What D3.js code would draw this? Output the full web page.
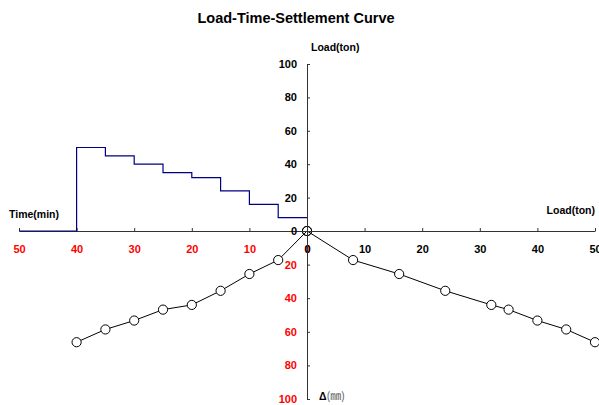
<!DOCTYPE html>
<html>
<head>
<meta charset="utf-8">
<script src="https://cdn.jsdelivr.net/npm/d3@7"></script>
<style>
  html, body { margin: 0; padding: 0; background: #fff; }
  svg { display: block; font-family: "Liberation Sans", Arial, sans-serif; }
</style>
</head>
<body>
<svg id="chart" width="599" height="405"></svg>
<script>
// ---- data ----
const elapsedTime = [0, 5, 10, 15, 20, 25, 30, 35, 40];          // min
const appliedLoad = [0, 8, 16, 24, 32, 35, 40, 45, 50];          // ton
const settlement  = [0, 17.3, 25.6, 35.6, 44, 46.8, 53.3, 58.6, 66.2]; // mm
const stepTime    = [0, 5, 10, 15, 20, 25, 30, 35, 40, 50];      // min
const stepLoad    = [8, 16, 24, 32, 35, 40, 45, 50, 0, 0];       // ton
const horizTicks  = [0, 10, 20, 30, 40, 50];
const vertTicks   = [0, 20, 40, 60, 80, 100];

const svg = d3.select("#chart");

// ---- scales ----
const xTime = d3.scaleLinear().domain([0, 50]).range([307, 19]);
const xLoad = d3.scaleLinear().domain([0, 50]).range([307, 595]);
const yLoad = d3.scaleLinear().domain([0, 100]).range([231, 64]);
const ySet  = d3.scaleLinear().domain([0, 100]).range([231, 399]);

// ---- title ----
svg.append("text").attr("x", 296).attr("y", 23).attr("text-anchor", "middle")
  .attr("font-size", 14.5).attr("font-weight", "bold").attr("fill", "#000")
  .text("Load-Time-Settlement Curve");

// ---- settlement curves ----
const gData = svg.append("g");
const leftPts = elapsedTime.map((t, i) => [xTime(t), ySet(settlement[i])]);
const rightPts = appliedLoad.map((p, i) => [xLoad(p), ySet(settlement[i])]);
const line = d3.line();
[leftPts, rightPts].forEach(pts => {
  gData.append("path").attr("d", line(pts)).attr("fill", "none")
    .attr("stroke", "#000").attr("stroke-width", 1);
});
[leftPts, rightPts].forEach(pts => {
  gData.selectAll(null).data(pts).enter().append("circle")
    .attr("cx", d => d[0]).attr("cy", d => d[1]).attr("r", 4.6)
    .attr("fill", "#fff").attr("stroke", "#000").attr("stroke-width", 1);
});
// origin circles shown without fill (axes visible through)
gData.selectAll("circle").filter((d) => d[0] === xTime(0) && d[1] === ySet(0)).attr("fill", "none");

// ---- axes ----
function styleAxis(g, color, size) {
  g.selectAll("path.domain").attr("stroke", "#333").attr("stroke-width", 1);
  g.selectAll(".tick line").attr("stroke", "#333");
  g.selectAll(".tick text").attr("fill", color).attr("font-size", size)
    .attr("font-weight", "bold").attr("font-family", "'Liberation Sans', Arial, sans-serif");
}

const axTime = svg.append("g").attr("transform", "translate(0,231)")
  .call(d3.axisBottom(xTime).tickValues(horizTicks).tickSizeInner(-3).tickSizeOuter(0).tickPadding(14).tickFormat(d3.format("d")));
styleAxis(axTime, "#ff0000", 11);

const axLoadX = svg.append("g").attr("transform", "translate(0,231)")
  .call(d3.axisBottom(xLoad).tickValues(horizTicks).tickSizeInner(-3).tickSizeOuter(0).tickPadding(14).tickFormat(d3.format("d")));
styleAxis(axLoadX, "#000", 11);

const axLoadY = svg.append("g").attr("transform", "translate(307,0)")
  .call(d3.axisLeft(yLoad).tickValues(vertTicks).tickSizeInner(-3).tickSizeOuter(0).tickPadding(10).tickFormat(d3.format("d")));
styleAxis(axLoadY, "#000", 11);

const axSet = svg.append("g").attr("transform", "translate(307,0)")
  .call(d3.axisLeft(ySet).tickValues(vertTicks).tickSizeInner(-3).tickSizeOuter(0).tickPadding(10)
    .tickFormat(d => d === 0 ? "" : d3.format("d")(d)));
styleAxis(axSet, "#ff0000", 11);

// ---- load-time step line ----
const stepPts = stepTime.map((t, i) => [xTime(t), yLoad(stepLoad[i])]);
svg.append("path").attr("d", d3.line().curve(d3.curveStepAfter)(stepPts))
  .attr("fill", "none").attr("stroke", "#000080").attr("stroke-width", 1.2);

// ---- axis titles ----
const titleFont = 10.5;
svg.append("text").attr("x", 311).attr("y", 50.5).attr("font-size", titleFont)
  .attr("font-weight", "bold").text("Load(ton)");
svg.append("text").attr("x", 595).attr("y", 214).attr("text-anchor", "end").attr("font-size", titleFont)
  .attr("font-weight", "bold").text("Load(ton)");
svg.append("text").attr("x", 9).attr("y", 218).attr("font-size", titleFont)
  .attr("font-weight", "bold").text("Time(min)");
const dl = svg.append("text").attr("x", 319).attr("y", 400).attr("font-size", titleFont);
dl.append("tspan").attr("font-weight", "bold").text("Δ");
dl.append("tspan").attr("fill", "#555").attr("font-size", 11)
  .attr("font-family", "'Noto Sans CJK KR', 'Noto Sans CJK JP', sans-serif").text("(㎜)");
</script>
</body>
</html>
